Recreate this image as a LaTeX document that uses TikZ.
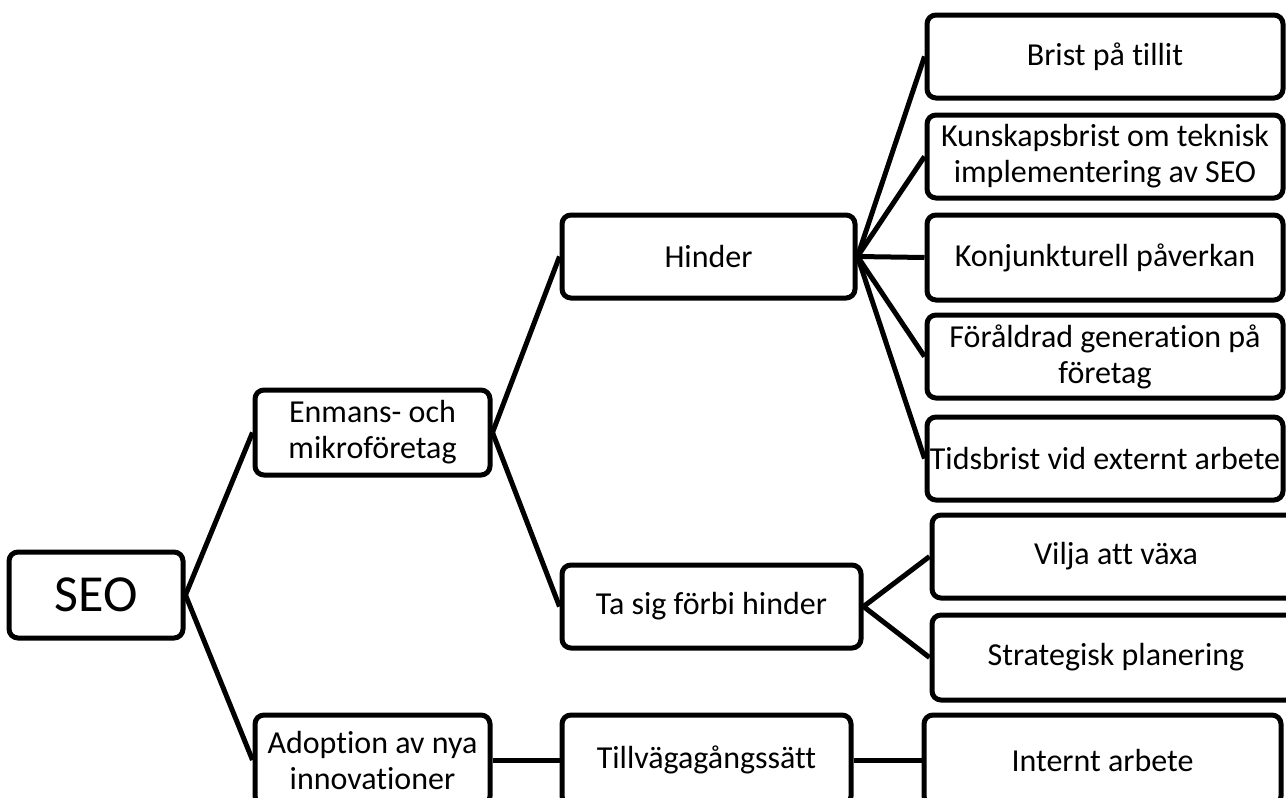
\documentclass[tikz,border=0pt]{standalone}
\usepackage{fontspec}
\setmainfont{Carlito}[Ligatures=NoCommon]
\begin{document}
\begin{tikzpicture}[x=1pt,y=-1pt,
  box/.style={draw=black, line width=5pt, rounded corners=9pt, fill=white, inner sep=0pt, align=center,
    font=\fontsize{32pt}{36pt}\selectfont},
  conn/.style={draw=black, line width=5pt}]
\useasboundingbox (0,0) rectangle (1286,798);
\clip (0,0) rectangle (1286,798);
% level 0
\node[box, minimum width=174pt, minimum height=86pt, font=\fontsize{52pt}{60pt}\selectfont] (seo) at (96,595) {SEO};
% level 1
\node[box, minimum width=235pt, minimum height=85pt] (enm) at (372.5,432.5) {Enmans- och\\mikroföretag};
\node[box, minimum width=235pt, minimum height=90pt] (adop) at (372.5,760) {Adoption av nya\\innovationer};
% level 2
\node[box, minimum width=293pt, minimum height=83pt] (hind) at (708.5,256.5) {Hinder};
\node[box, minimum width=299pt, minimum height=83pt] (tasig) at (711.5,606.5) {Ta sig förbi hinder};
\node[box, minimum width=289pt, minimum height=90pt] (till) at (706.5,760) {Tillvägagångssätt};
% level 3
\node[box, minimum width=356pt, minimum height=83pt] (brist) at (1105,56.5) {Brist på tillit};
\node[box, minimum width=356pt, minimum height=83pt] (kunsk) at (1105,156.5) {Kunskapsbrist om teknisk\\implementering av SEO};
\node[box, minimum width=356pt, minimum height=85pt] (konj) at (1105,257.5) {Konjunkturell påverkan};
\node[box, minimum width=356pt, minimum height=83pt] (forald) at (1105,356.5) {Föråldrad generation på\\företag};
\node[box, minimum width=356pt, minimum height=83pt] (tids) at (1105,458.5) {Tidsbrist vid externt arbete};
\node[box, minimum width=368pt, minimum height=83pt] (vilja) at (1116,556.5) {Vilja att växa};
\node[box, minimum width=368pt, minimum height=85pt] (strat) at (1116,657.5) {Strategisk planering};
\node[box, minimum width=357pt, minimum height=90pt] (intern) at (1102.5,760) {Internt arbete};
% connectors
\draw[conn] (seo.east) -- (enm.west);
\draw[conn] (seo.east) -- (adop.west);
\draw[conn] (enm.east) -- (hind.west);
\draw[conn] (enm.east) -- (tasig.west);
\draw[conn] (adop.east) -- (till.west);
\draw[conn] (till.east) -- (intern.west);
\draw[conn] (hind.east) -- (brist.west);
\draw[conn] (hind.east) -- (kunsk.west);
\draw[conn] (hind.east) -- (konj.west);
\draw[conn] (hind.east) -- (forald.west);
\draw[conn] (hind.east) -- (tids.west);
\draw[conn] (tasig.east) -- (vilja.west);
\draw[conn] (tasig.east) -- (strat.west);
\end{tikzpicture}
\end{document}
